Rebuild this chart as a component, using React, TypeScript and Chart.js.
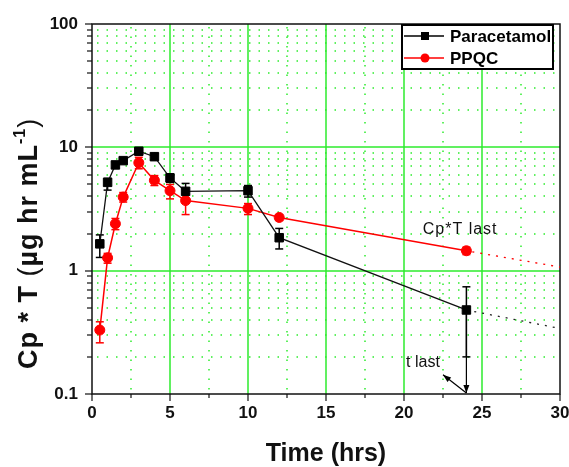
import React, { useEffect, useRef } from "react";
import { Chart, registerables } from "chart.js";
Chart.register(...registerables);

// ---- data ----
const timeHours = [0.5, 1, 1.5, 2, 3, 4, 5, 6, 10, 12, 24];
const paracetamol = [1.65, 5.2, 7.2, 7.8, 9.3, 8.4, 5.65, 4.4, 4.45, 1.85, 0.48];
const paracetamolUpper = [1.95, 5.6, 7.6, 8.2, 9.8, 8.9, 6.1, 5.1, 4.9, 2.2, 0.74];
const paracetamolLower = [1.28, 4.5, 6.8, 7.4, 8.8, 7.9, 5.2, 3.8, 3.95, 1.5, 0.2];
const ppqc = [0.33, 1.27, 2.4, 3.95, 7.5, 5.4, 4.45, 3.7, 3.2, 2.7, 1.45];
const ppqcUpper = [0.385, 1.38, 2.65, 4.3, 8.3, 5.9, 5.0, 4.2, 3.5, 2.85, 1.55];
const ppqcLower = [0.26, 1.15, 2.15, 3.6, 6.7, 4.9, 3.82, 2.85, 2.85, 2.55, 1.35];
const extrapolationTime = [24, 30];
const paracetamolExtrapolated = [0.48, 0.34];
const ppqcExtrapolated = [1.45, 1.07];
const xMajorTicks = [0, 5, 10, 15, 20, 25, 30];
const xMinorTicks = [2.5, 7.5, 12.5, 17.5, 22.5, 27.5];
const yTickValues = [0.1, 1, 10, 100];
const yTickLabels = ["0.1", "1", "10", "100"];
const yMinorMultipliers = [2, 3, 4, 5, 6, 7, 8, 9];
const legendLabels = ["Paracetamol", "PPQC"];
const xTitle = "Time (hrs)";
const cptLastLabel = "Cp*T last";
const tLastLabel = "t last";

// annotation anchors in data coordinates
const cptLastAt = { x: 23.6, y: 2.15 };
const tLastAt = { x: 22.3, y: 0.18 };
const tLastArrowFrom = { x: 24, y: 0.1 };
const tLastArrowTo = { x: 22.5, y: 0.143 };
const tLastDropFrom = { x: 24, y: 0.48 };
const tLastDropTo = { x: 24, y: 0.1 };

const FONT = '"Liberation Sans", Arial, sans-serif';
const GREEN = "rgb(45,235,45)";
const RED = "#ff0000";

function line(ctx: CanvasRenderingContext2D, x1: number, y1: number, x2: number, y2: number) {
  ctx.beginPath();
  ctx.moveTo(x1, y1);
  ctx.lineTo(x2, y2);
  ctx.stroke();
}

function arrow(ctx: CanvasRenderingContext2D, x1: number, y1: number, x2: number, y2: number) {
  line(ctx, x1, y1, x2, y2);
  const ang = Math.atan2(y2 - y1, x2 - x1);
  const len = 8, half = 3;
  ctx.beginPath();
  ctx.moveTo(x2, y2);
  ctx.lineTo(x2 - len * Math.cos(ang) + half * Math.sin(ang), y2 - len * Math.sin(ang) - half * Math.cos(ang));
  ctx.lineTo(x2 - len * Math.cos(ang) - half * Math.sin(ang), y2 - len * Math.sin(ang) + half * Math.cos(ang));
  ctx.closePath();
  ctx.fill();
}

const decorPlugin = {
  id: "decor",
  beforeDatasetsDraw(chart: any) {
    const { ctx, chartArea: a } = chart;
    const x = chart.scales.x, y = chart.scales.y;
    ctx.save();
    // minor dotted grid
    ctx.strokeStyle = GREEN;
    ctx.lineWidth = 1.5;
    ctx.setLineDash([1.5, 8]);
    for (const v of xMinorTicks) {
      const px = Math.round(x.getPixelForValue(v));
      line(ctx, px, a.top + 3, px, a.bottom);
    }
    for (const d of yTickValues.slice(0, 3)) {
      for (const k of yMinorMultipliers) {
        const py = Math.round(y.getPixelForValue(d * k));
        line(ctx, a.left + 5, py, a.right, py);
      }
    }
    ctx.setLineDash([]);
    // major solid grid
    ctx.lineWidth = 1.5;
    for (const v of xMajorTicks.slice(1, -1)) {
      const px = Math.round(x.getPixelForValue(v));
      line(ctx, px, a.top, px, a.bottom);
    }
    for (const v of yTickValues.slice(1, -1)) {
      const py = Math.round(y.getPixelForValue(v));
      line(ctx, a.left, py, a.right, py);
    }
    // frame
    ctx.strokeStyle = "#111";
    ctx.lineWidth = 1.5;
    ctx.strokeRect(a.left, a.top, a.right - a.left, a.bottom - a.top);
    // tick marks
    ctx.lineWidth = 1.2;
    for (const v of xMajorTicks) {
      const px = Math.round(x.getPixelForValue(v));
      line(ctx, px, a.bottom, px, a.bottom + 7);
    }
    for (const v of xMinorTicks) {
      const px = Math.round(x.getPixelForValue(v));
      line(ctx, px, a.bottom, px, a.bottom + 4);
    }
    for (const v of yTickValues) {
      const py = Math.round(y.getPixelForValue(v));
      line(ctx, a.left - 7, py, a.left, py);
    }
    for (const d of yTickValues.slice(0, 3)) {
      for (const k of yMinorMultipliers) {
        const py = Math.round(y.getPixelForValue(d * k));
        line(ctx, a.left - 5, py, a.left, py);
      }
    }
    // error bars
    const drawErr = (up: number[], lo: number[], color: string) => {
      ctx.strokeStyle = color;
      ctx.lineWidth = 1.5;
      timeHours.forEach((t, i) => {
        const px = x.getPixelForValue(t);
        const pu = y.getPixelForValue(up[i]);
        const pl = y.getPixelForValue(lo[i]);
        line(ctx, px, pu, px, pl);
        line(ctx, px - 4, pu, px + 4, pu);
        line(ctx, px - 4, pl, px + 4, pl);
      });
    };
    drawErr(ppqcUpper, ppqcLower, RED);
    drawErr(paracetamolUpper, paracetamolLower, "#000");
    ctx.restore();
  },
  afterDraw(chart: any) {
    const { ctx } = chart;
    const x = chart.scales.x, y = chart.scales.y;
    ctx.save();
    // t last arrows
    ctx.strokeStyle = "#000";
    ctx.fillStyle = "#000";
    ctx.lineWidth = 1.2;
    arrow(ctx, x.getPixelForValue(tLastDropFrom.x), y.getPixelForValue(tLastDropFrom.y),
      x.getPixelForValue(tLastDropTo.x), y.getPixelForValue(tLastDropTo.y) - 1);
    arrow(ctx, x.getPixelForValue(tLastArrowFrom.x), y.getPixelForValue(tLastArrowFrom.y) - 1,
      x.getPixelForValue(tLastArrowTo.x), y.getPixelForValue(tLastArrowTo.y));
    // annotation texts
    ctx.font = `16px ${FONT}`;
    ctx.fillStyle = "#111";
    ctx.textBaseline = "middle";
    (ctx as any).letterSpacing = "1px";
    ctx.textAlign = "center";
    ctx.fillText(cptLastLabel, x.getPixelForValue(cptLastAt.x), y.getPixelForValue(cptLastAt.y));
    (ctx as any).letterSpacing = "0px";
    ctx.textAlign = "right";
    ctx.fillText(tLastLabel, x.getPixelForValue(tLastAt.x), y.getPixelForValue(tLastAt.y));

    // legend
    const lx = 402, ly = 25, lw = 151, lh = 44;
    ctx.fillStyle = "#fff";
    ctx.fillRect(lx, ly, lw, lh);
    ctx.strokeStyle = "#000";
    ctx.lineWidth = 2;
    ctx.strokeRect(lx, ly, lw, lh);
    const rows = [
      { label: legendLabels[0], color: "#000", rect: true, yy: 36 },
      { label: legendLabels[1], color: RED, rect: false, yy: 58 },
    ];
    for (const r of rows) {
      ctx.strokeStyle = r.color;
      ctx.fillStyle = r.color;
      ctx.lineWidth = 1.5;
      line(ctx, lx + 2, r.yy, lx + 42, r.yy);
      if (r.rect) ctx.fillRect(lx + 19, r.yy - 4, 8, 8);
      else { ctx.beginPath(); ctx.arc(lx + 23, r.yy, 4.5, 0, Math.PI * 2); ctx.fill(); }
      ctx.fillStyle = "#000";
      ctx.font = `bold 17px ${FONT}`;
      ctx.textAlign = "left";
      ctx.textBaseline = "middle";
      ctx.fillText(r.label, lx + 48, r.yy + 1);
    }

    // x title
    ctx.fillStyle = "#111";
    ctx.font = `bold 25px ${FONT}`;
    ctx.textAlign = "center";
    ctx.textBaseline = "alphabetic";
    ctx.fillText(xTitle, 326, 461);

    // y title (rotated, rich text)
    ctx.translate(37, 369);
    ctx.rotate(-Math.PI / 2);
    ctx.textAlign = "left";
    (ctx as any).letterSpacing = "1px";
    const parts = [
      { t: "Cp * T ", f: `bold 27px ${FONT}`, dy: 0 },
      { t: "(", f: `27px ${FONT}`, dy: 0 },
      { t: "µg hr mL", f: `bold 27px ${FONT}`, dy: 0 },
      { t: "-1", f: `bold 16px ${FONT}`, dy: -12 },
      { t: ")", f: `27px ${FONT}`, dy: 0 },
    ];
    let cx = 0;
    for (const p of parts) {
      ctx.font = p.f;
      ctx.fillText(p.t, cx, p.dy);
      cx += ctx.measureText(p.t).width;
    }
    ctx.restore();
  },
};

export default function App() {
  const ref = useRef<HTMLCanvasElement>(null);
  useEffect(() => {
    const tickFont = { family: FONT, size: 17, weight: "bold" as const };
    const chart = new Chart(ref.current!, {
      type: "line",
      data: {
        datasets: [
          {
            label: legendLabels[0],
            data: timeHours.map((t, i) => ({ x: t, y: paracetamol[i] })),
            borderColor: "#111",
            backgroundColor: "#000",
            borderWidth: 1.3,
            pointStyle: "rect",
            pointRadius: 6,
            pointBorderWidth: 1,
            pointBorderColor: "#000",
            tension: 0,
          },
          {
            label: legendLabels[1],
            data: timeHours.map((t, i) => ({ x: t, y: ppqc[i] })),
            borderColor: RED,
            backgroundColor: RED,
            borderWidth: 1.5,
            pointStyle: "circle",
            pointRadius: 5,
            pointBorderWidth: 1,
            pointBorderColor: RED,
            tension: 0,
          },
          {
            label: "Paracetamol extrapolated",
            data: extrapolationTime.map((t, i) => ({ x: t, y: paracetamolExtrapolated[i] })),
            borderColor: "#222",
            borderWidth: 1.3,
            borderDash: [2, 6],
            pointRadius: 0,
          },
          {
            label: "PPQC extrapolated",
            data: extrapolationTime.map((t, i) => ({ x: t, y: ppqcExtrapolated[i] })),
            borderColor: RED,
            borderWidth: 1.3,
            borderDash: [2, 6],
            borderDashOffset: -6,
            pointRadius: 0,
          },
        ],
      },
      options: {
        responsive: false,
        animation: false,
        devicePixelRatio: 1,
        layout: { padding: { left: 0, right: 9, top: 24, bottom: 0 } },
        plugins: { legend: { display: false }, tooltip: { enabled: false } },
        scales: {
          x: {
            type: "linear",
            min: 0,
            max: 30,
            ticks: { stepSize: 5, font: tickFont, color: "#111", padding: 9, autoSkip: false, maxRotation: 0 },
            grid: { display: false, drawTicks: false },
            border: { display: false },
            afterFit: (s: any) => {
              s.height = 73;
              s.paddingLeft = 0;
              s.paddingRight = 0;
            },
          },
          y: {
            type: "logarithmic",
            min: 0.1,
            max: 100,
            afterBuildTicks: (s: any) => {
              s.ticks = yTickValues.map((v) => ({ value: v }));
            },
            ticks: {
              font: tickFont,
              color: "#111",
              padding: 14,
              autoSkip: false,
              callback: (v: any) => {
                const i = yTickValues.indexOf(Number(v));
                return i >= 0 ? yTickLabels[i] : "";
              },
            },
            grid: { display: false, drawTicks: false },
            border: { display: false },
            afterFit: (s: any) => {
              s.width = 92;
              s.paddingTop = 0;
              s.paddingBottom = 0;
            },
          },
        },
      },
      plugins: [decorPlugin],
    } as any);
    return () => chart.destroy();
  }, []);
  return (
    <div style={{ position: "absolute", left: 0, top: 0, width: 569, height: 467, background: "#fff" }}>
      <canvas ref={ref} width={569} height={467} style={{ display: "block", width: 569, height: 467 }} />
    </div>
  );
}
